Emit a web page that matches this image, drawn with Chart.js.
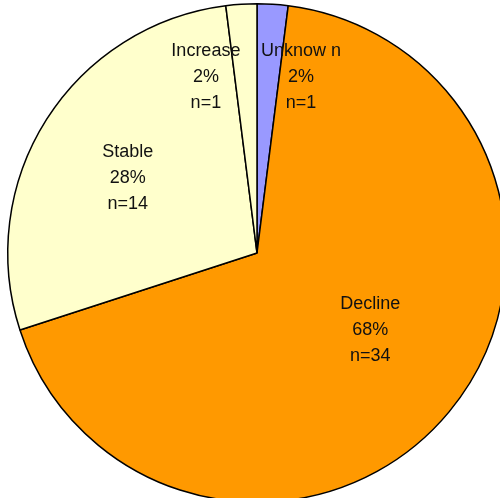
<!DOCTYPE html>
<html lang="en">
<head>
    <meta charset="UTF-8">
    <title>Trend pie</title>
    <style>
        html, body {
            margin: 0;
            padding: 0;
            overflow: hidden;
            background: #fff;
        }
        #wrap {
            position: absolute;
            left: 0;
            top: 0;
            width: 520px;
            height: 510px;
        }
    </style>
</head>
<body>
    <div id="wrap">
        <canvas id="pieChart" width="520" height="510"></canvas>
    </div>

    <script src="https://cdn.jsdelivr.net/npm/chart.js"></script>
    <script>
        const categories = ['Unknow n', 'Decline', 'Stable', 'Increase'];
        const counts = [1, 34, 14, 1];
        const percents = ['2%', '68%', '28%', '2%'];
        const sliceColors = ['#9999FF', '#FF9900', '#FFFFCC', '#FFFFCC'];

        // draw the three-line labels inside the slices
        const sliceLabels = {
            id: 'sliceLabels',
            afterDatasetsDraw(chart) {
                const ctx = chart.ctx;
                const arcs = chart.getDatasetMeta(0).data;
                // small tweaks so labels sit where the original put them
                const nudge = [[33, 1], [-2, -18], [-3, 5], [-40, 1]];
                ctx.save();
                ctx.font = '18px "Liberation Sans", Arial, sans-serif';
                ctx.fillStyle = '#111';
                ctx.textAlign = 'center';
                ctx.textBaseline = 'middle';
                arcs.forEach((arc, i) => {
                    const p = arc.getProps(['x', 'y', 'startAngle', 'endAngle', 'outerRadius'], true);
                    const mid = (p.startAngle + p.endAngle) / 2;
                    const small = (p.endAngle - p.startAngle) < 0.3;
                    const r = p.outerRadius * (small ? 0.71 : 0.6);
                    const x = p.x + Math.cos(mid) * r + nudge[i][0];
                    const y = p.y + Math.sin(mid) * r + nudge[i][1];
                    const lines = [categories[i], percents[i], 'n=' + counts[i]];
                    lines.forEach((t, k) => ctx.fillText(t, x, y + (k - 1) * 26));
                });
                ctx.restore();
            }
        };

        const ctx = document.getElementById('pieChart').getContext('2d');
        new Chart(ctx, {
            type: 'pie',
            data: {
                labels: categories,
                datasets: [{
                    data: counts,
                    backgroundColor: sliceColors,
                    borderColor: '#000',
                    borderWidth: 1.5
                }]
            },
            options: {
                responsive: false,
                animation: false,
                layout: {
                    padding: { left: 7, top: 3, right: 13, bottom: 7 }
                },
                plugins: {
                    legend: { display: false },
                    tooltip: { enabled: false }
                }
            },
            plugins: [sliceLabels]
        });
    </script>
</body>
</html>
